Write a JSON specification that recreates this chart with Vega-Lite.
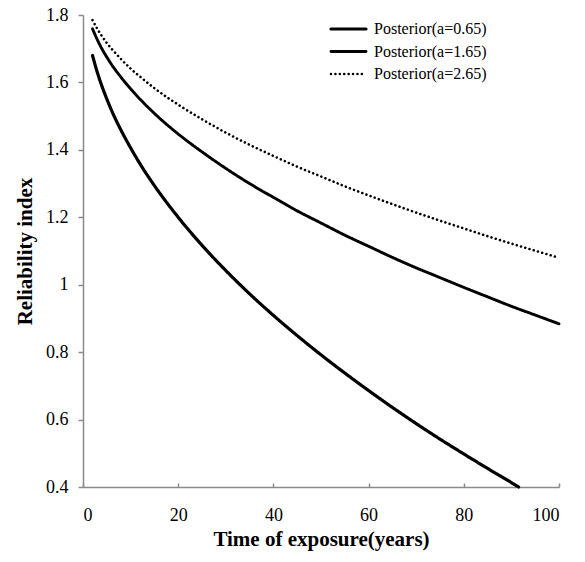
{
  "$schema": "https://vega.github.io/schema/vega-lite/v6.json",
  "autosize": "none",
  "width": 476,
  "height": 472,
  "padding": {"left": 83, "top": 15, "right": 26, "bottom": 75},
  "background": "white",
  "config": {
    "view": {"stroke": null},
    "font": "Liberation Serif",
    "style": {"guide-label": {"font": "Liberation Serif"}, "guide-title": {"font": "Liberation Serif"}},
    "axis": {
      "grid": false,
      "domainColor": "#8a8a8a",
      "domainWidth": 1.5,
      "tickColor": "#8a8a8a",
      "tickWidth": 1.5,
      "labelFont": "Liberation Serif",
      "labelFontSize": 18,
      "labelColor": "black",
      "titleFont": "Liberation Serif",
      "titleFontSize": 21,
      "titleFontWeight": "bold",
      "titleColor": "black"
    },
    "legend": {
      "labelFont": "Liberation Serif",
      "labelFontSize": 16,
      "labelColor": "black"
    }
  },
  "data": {
    "values": [
      {"t": 2, "r": 1.680, "series": "Posterior(a=0.65)"},
      {"t": 3, "r": 1.630, "series": "Posterior(a=0.65)"},
      {"t": 4, "r": 1.588, "series": "Posterior(a=0.65)"},
      {"t": 5, "r": 1.551, "series": "Posterior(a=0.65)"},
      {"t": 6, "r": 1.517, "series": "Posterior(a=0.65)"},
      {"t": 8, "r": 1.458, "series": "Posterior(a=0.65)"},
      {"t": 10, "r": 1.406, "series": "Posterior(a=0.65)"},
      {"t": 12, "r": 1.358, "series": "Posterior(a=0.65)"},
      {"t": 15, "r": 1.294, "series": "Posterior(a=0.65)"},
      {"t": 20, "r": 1.200, "series": "Posterior(a=0.65)"},
      {"t": 25, "r": 1.117, "series": "Posterior(a=0.65)"},
      {"t": 30, "r": 1.042, "series": "Posterior(a=0.65)"},
      {"t": 35, "r": 0.973, "series": "Posterior(a=0.65)"},
      {"t": 40, "r": 0.909, "series": "Posterior(a=0.65)"},
      {"t": 45, "r": 0.849, "series": "Posterior(a=0.65)"},
      {"t": 50, "r": 0.792, "series": "Posterior(a=0.65)"},
      {"t": 55, "r": 0.738, "series": "Posterior(a=0.65)"},
      {"t": 60, "r": 0.686, "series": "Posterior(a=0.65)"},
      {"t": 65, "r": 0.636, "series": "Posterior(a=0.65)"},
      {"t": 70, "r": 0.588, "series": "Posterior(a=0.65)"},
      {"t": 75, "r": 0.542, "series": "Posterior(a=0.65)"},
      {"t": 80, "r": 0.498, "series": "Posterior(a=0.65)"},
      {"t": 85, "r": 0.455, "series": "Posterior(a=0.65)"},
      {"t": 90, "r": 0.413, "series": "Posterior(a=0.65)"},
      {"t": 91.5, "r": 0.400, "series": "Posterior(a=0.65)"},

      {"t": 2, "r": 1.759, "series": "Posterior(a=1.65)"},
      {"t": 3, "r": 1.727, "series": "Posterior(a=1.65)"},
      {"t": 4, "r": 1.699, "series": "Posterior(a=1.65)"},
      {"t": 5, "r": 1.675, "series": "Posterior(a=1.65)"},
      {"t": 6, "r": 1.653, "series": "Posterior(a=1.65)"},
      {"t": 8, "r": 1.615, "series": "Posterior(a=1.65)"},
      {"t": 10, "r": 1.581, "series": "Posterior(a=1.65)"},
      {"t": 12, "r": 1.550, "series": "Posterior(a=1.65)"},
      {"t": 15, "r": 1.508, "series": "Posterior(a=1.65)"},
      {"t": 20, "r": 1.447, "series": "Posterior(a=1.65)"},
      {"t": 25, "r": 1.394, "series": "Posterior(a=1.65)"},
      {"t": 30, "r": 1.345, "series": "Posterior(a=1.65)"},
      {"t": 35, "r": 1.300, "series": "Posterior(a=1.65)"},
      {"t": 40, "r": 1.259, "series": "Posterior(a=1.65)"},
      {"t": 45, "r": 1.219, "series": "Posterior(a=1.65)"},
      {"t": 50, "r": 1.183, "series": "Posterior(a=1.65)"},
      {"t": 55, "r": 1.147, "series": "Posterior(a=1.65)"},
      {"t": 60, "r": 1.114, "series": "Posterior(a=1.65)"},
      {"t": 65, "r": 1.081, "series": "Posterior(a=1.65)"},
      {"t": 70, "r": 1.050, "series": "Posterior(a=1.65)"},
      {"t": 75, "r": 1.021, "series": "Posterior(a=1.65)"},
      {"t": 80, "r": 0.992, "series": "Posterior(a=1.65)"},
      {"t": 85, "r": 0.964, "series": "Posterior(a=1.65)"},
      {"t": 90, "r": 0.936, "series": "Posterior(a=1.65)"},
      {"t": 95, "r": 0.910, "series": "Posterior(a=1.65)"},
      {"t": 100, "r": 0.884, "series": "Posterior(a=1.65)"},

      {"t": 2, "r": 1.785, "series": "Posterior(a=2.65)"},
      {"t": 3, "r": 1.759, "series": "Posterior(a=2.65)"},
      {"t": 4, "r": 1.737, "series": "Posterior(a=2.65)"},
      {"t": 5, "r": 1.717, "series": "Posterior(a=2.65)"},
      {"t": 6, "r": 1.700, "series": "Posterior(a=2.65)"},
      {"t": 8, "r": 1.669, "series": "Posterior(a=2.65)"},
      {"t": 10, "r": 1.641, "series": "Posterior(a=2.65)"},
      {"t": 12, "r": 1.617, "series": "Posterior(a=2.65)"},
      {"t": 15, "r": 1.583, "series": "Posterior(a=2.65)"},
      {"t": 20, "r": 1.534, "series": "Posterior(a=2.65)"},
      {"t": 25, "r": 1.491, "series": "Posterior(a=2.65)"},
      {"t": 30, "r": 1.451, "series": "Posterior(a=2.65)"},
      {"t": 35, "r": 1.415, "series": "Posterior(a=2.65)"},
      {"t": 40, "r": 1.382, "series": "Posterior(a=2.65)"},
      {"t": 45, "r": 1.350, "series": "Posterior(a=2.65)"},
      {"t": 50, "r": 1.321, "series": "Posterior(a=2.65)"},
      {"t": 55, "r": 1.292, "series": "Posterior(a=2.65)"},
      {"t": 60, "r": 1.265, "series": "Posterior(a=2.65)"},
      {"t": 65, "r": 1.239, "series": "Posterior(a=2.65)"},
      {"t": 70, "r": 1.214, "series": "Posterior(a=2.65)"},
      {"t": 75, "r": 1.190, "series": "Posterior(a=2.65)"},
      {"t": 80, "r": 1.167, "series": "Posterior(a=2.65)"},
      {"t": 85, "r": 1.144, "series": "Posterior(a=2.65)"},
      {"t": 90, "r": 1.122, "series": "Posterior(a=2.65)"},
      {"t": 95, "r": 1.101, "series": "Posterior(a=2.65)"},
      {"t": 100, "r": 1.080, "series": "Posterior(a=2.65)"}
    ]
  },
  "mark": {"type": "line", "interpolate": "monotone", "color": "black", "strokeCap": "round"},
  "encoding": {
    "x": {
      "field": "t",
      "type": "quantitative",
      "scale": {"domain": [0, 100], "nice": false},
      "axis": {
        "title": "Time of exposure(years)",
        "values": [0, 20, 40, 60, 80, 100],
        "labelFont": "Liberation Serif",
        "labelFontSize": 18,
        "tickSize": -4,
        "labelPadding": 23,
        "titlePadding": 4
      }
    },
    "y": {
      "field": "r",
      "type": "quantitative",
      "scale": {"domain": [0.4, 1.8], "nice": false, "zero": false},
      "axis": {
        "title": "Reliability index",
        "values": [0.4, 0.6, 0.8, 1, 1.2, 1.4, 1.6, 1.8],
        "format": ".1~f",
        "labelFont": "Liberation Serif",
        "labelFontSize": 18,
        "tickSize": 5,
        "labelPadding": 10,
        "titlePadding": 10
      }
    },
    "strokeDash": {
      "field": "series",
      "type": "nominal",
      "scale": {
        "domain": ["Posterior(a=0.65)", "Posterior(a=1.65)", "Posterior(a=2.65)"],
        "range": [[1, 0], [1, 0], [0.01, 4.4]]
      },
      "legend": {
        "title": null,
        "orient": "none",
        "legendX": 257.5,
        "legendY": 6,
        "symbolType": "M-3.5,0H3.5",
        "symbolSize": 100,
        "symbolStrokeColor": "black",
        "symbolFillColor": "transparent",
        "labelFont": "Liberation Serif",
        "labelFontSize": 16,
        "labelOffset": 17.5,
        "rowPadding": 6.5,
        "encode": {"symbols": {"update": {"strokeCap": {"value": "round"}}}}
      }
    },
    "strokeWidth": {
      "field": "series",
      "type": "nominal",
      "scale": {
        "domain": ["Posterior(a=0.65)", "Posterior(a=1.65)", "Posterior(a=2.65)"],
        "range": [3.2, 2.6, 3.2]
      }
    }
  }
}
